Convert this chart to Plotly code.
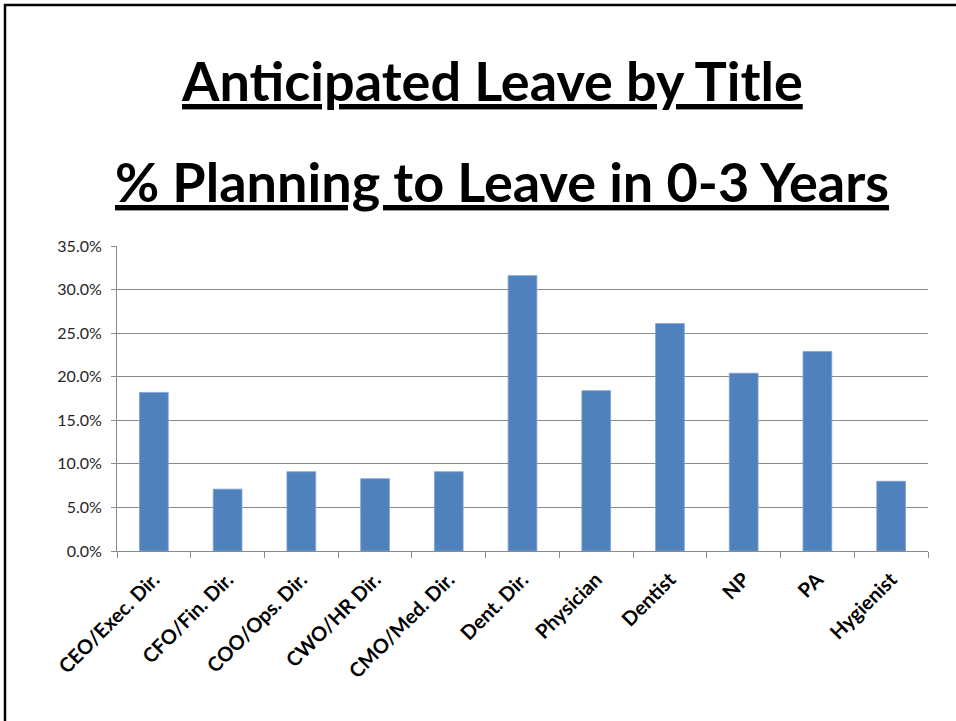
import plotly.graph_objects as go

# Survey results: share of staff planning to leave within 0-3 years, by title
titles = [
    "CEO/Exec. Dir.", "CFO/Fin. Dir.", "COO/Ops. Dir.", "CWO/HR Dir.",
    "CMO/Med. Dir.", "Dent. Dir.", "Physician", "Dentist", "NP", "PA", "Hygienist",
]
pct_leaving = [0.182, 0.071, 0.091, 0.083, 0.091, 0.316, 0.184, 0.261, 0.204, 0.229, 0.080]

y_ticks = [0.0, 0.05, 0.10, 0.15, 0.20, 0.25, 0.30, 0.35]

heading_1 = "Anticipated Leave by Title"
heading_2 = "% Planning to Leave in 0-3 Years"

W, H = 956, 721
ML, MR, MT, MB = 117, 28, 246, 170
plot_w = W - ML - MR
plot_h = H - MT - MB


def px_to_paper_x(px):
    return (px - ML) / plot_w


def px_to_paper_y(py):
    return (H - MB - py) / plot_h


fig = go.Figure(
    go.Bar(
        x=titles,
        y=pct_leaving,
        marker=dict(color="#4F81BD", line=dict(color="#7FA2D1", width=0.8)),
        hoverinfo="skip",
    )
)

grid = "#8A8A8A"
fig.update_layout(
    width=W,
    height=H,
    margin=dict(l=ML, r=MR, t=MT, b=MB, pad=0),
    paper_bgcolor="white",
    plot_bgcolor="white",
    bargap=0.61,
    showlegend=False,
    font=dict(family="Lato", color="#000000"),
    xaxis=dict(
        showgrid=False,
        showline=True,
        linecolor=grid,
        linewidth=1,
        ticks="outside",
        tickson="boundaries",
        ticklen=6,
        tickcolor=grid,
        tickangle=-45,
        ticklabelstandoff=8,
        tickfont=dict(family="Lato", size=20, color="#000000", weight="bold"),
    ),
    yaxis=dict(
        range=[0, 0.35],
        tickvals=y_ticks,
        tickformat=".1%",
        showgrid=True,
        gridcolor=grid,
        gridwidth=1,
        zeroline=False,
        showline=True,
        linecolor=grid,
        linewidth=1,
        ticks="outside",
        ticklen=5,
        tickcolor=grid,
        ticklabelstandoff=6,
        tickfont=dict(family="Lato", size=16, color="#262626"),
    ),
)

# Two-line underlined heading
for text, xpix, ypix in [(heading_1, 492, 80), (heading_2, 502, 181)]:
    fig.add_annotation(
        text=f"<b><u>{text}</u></b>",
        xref="paper",
        yref="paper",
        x=px_to_paper_x(xpix),
        y=px_to_paper_y(ypix),
        xanchor="center",
        yanchor="middle",
        showarrow=False,
        font=dict(family="Lato", size=54, color="#000000"),
    )

# Slide frame along the top and left edges
fig.add_shape(
    type="path",
    xref="paper",
    yref="paper",
    path=(
        f"M {px_to_paper_x(5)} {px_to_paper_y(H + 5)} "
        f"L {px_to_paper_x(5)} {px_to_paper_y(5)} "
        f"L {px_to_paper_x(W + 5)} {px_to_paper_y(5)}"
    ),
    line=dict(color="#000000", width=2.5),
)

fig.write_html("out.html")
